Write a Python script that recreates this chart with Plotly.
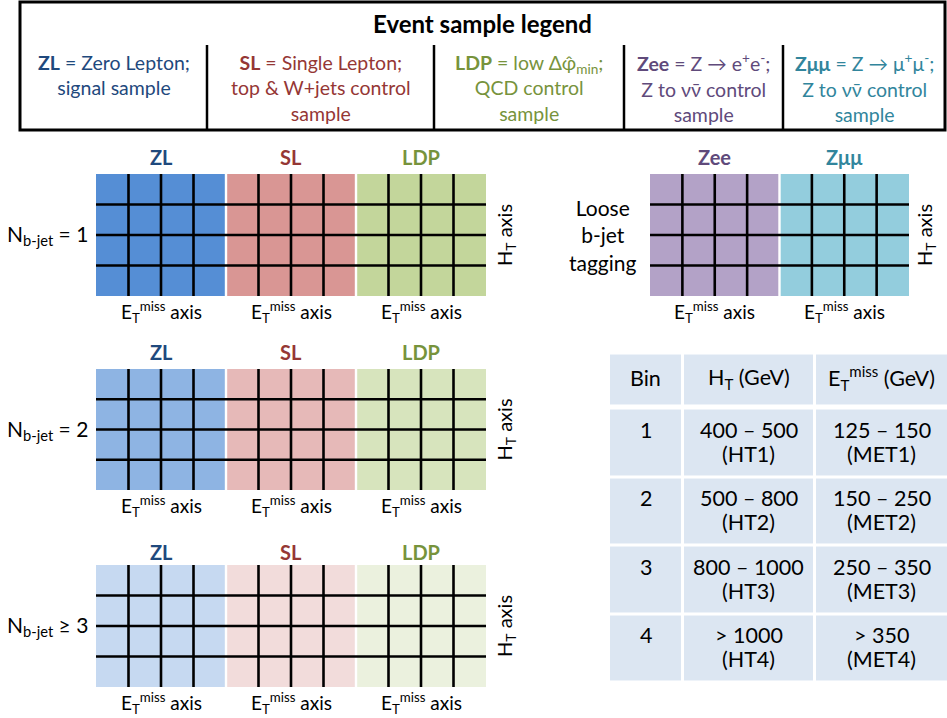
import plotly.graph_objects as go

# ---------------- data ----------------
MAIN_SAMPLES = ["ZL", "SL", "LDP"]
LOOSE_SAMPLES = ["Zee", "Zμμ"]
NB_ROWS = ["N<sub>b-jet</sub> = 1", "N<sub>b-jet</sub> = 2", "N<sub>b-jet</sub> ≥ 3"]
HT_BINS = ["HT1", "HT2", "HT3", "HT4"]
MET_BINS = ["MET1", "MET2", "MET3", "MET4"]
TABLE_HEADER = ["Bin", "H<sub>T</sub> (GeV)", "E<sub>T</sub><sup>miss</sup> (GeV)"]
BIN_NUMBERS = ["1", "2", "3", "4"]
HT_RANGES = ["400 – 500", "500 – 800", "800 – 1000", "&gt; 1000"]
MET_RANGES = ["125 – 150", "150 – 250", "250 – 350", "&gt; 350"]
LEGEND_TITLE = "Event sample legend"
LEGEND_KEYS = ["ZL", "SL", "LDP", "Zee", "Zμμ"]
LEGEND_DESC = [
    " = Zero Lepton;<br>signal sample",
    " = Single Lepton;<br>top &amp; W+jets control<br>sample",
    " = low Δφ\u0302<sub>min</sub>;<br>QCD control<br>sample",
    " = Z → e<sup>+</sup>e<sup>-</sup>;<br>Z to νν\u0304 control<br>sample",
    " = Z → μ<sup>+</sup>μ<sup>-</sup>;<br>Z to νν\u0304 control<br>sample",
]
LOOSE_LABEL = "Loose<br>b-jet<br>tagging"
MET_AXIS = "E<sub>T</sub><sup>miss</sup> axis"
HT_AXIS = "H<sub>T</sub> axis"

# ---------------- styles ----------------
FONT = "Lato"
W, H = 947, 718
FILL = {
    "ZL": ["#558ED5", "#8EB4E3", "#C6D9F1"],
    "SL": ["#D99694", "#E6B9B8", "#F2DCDB"],
    "LDP": ["#C3D69B", "#D7E4BD", "#EBF1DE"],
    "Zee": ["#B3A2C7"],
    "Zμμ": ["#93CDDD"],
}
INK = {"ZL": "#1F497D", "SL": "#953735", "LDP": "#77933C",
       "Zee": "#604A7B", "Zμμ": "#31859C"}
TABLE_FILL = "#DCE6F2"

fig = go.Figure()
ann = []


def add_grid(left, top, cw, ch, samples, shade, label_y, axis_y, ht_x):
    n = len(samples)
    ncol = len(MET_BINS) * n
    nrow = len(HT_BINS)
    z = [[j // len(MET_BINS) for j in range(ncol)] for _ in range(nrow)]
    colors = [FILL[s][shade] for s in samples]
    cs = []
    for k, c in enumerate(colors):
        cs.append([k / n, c])
        cs.append([(k + 1) / n, c])
    fig.add_trace(go.Heatmap(
        z=z, x0=left + cw / 2, dx=cw, y0=top + ch / 2, dy=ch,
        colorscale=cs, zmin=-0.5, zmax=n - 0.5, showscale=False,
        hoverinfo="skip"))
    right = left + ncol * cw
    bottom = top + nrow * ch
    # white separators between samples
    wx, wy = [], []
    for s in range(1, n):
        x = left + s * len(MET_BINS) * cw
        wx += [x, x, None]
        wy += [top, bottom, None]
    if wx:
        fig.add_trace(go.Scatter(x=wx, y=wy, mode="lines",
                                 line=dict(color="white", width=2.4),
                                 hoverinfo="skip", showlegend=False))
    # black bin lines
    bx, by = [], []
    for k in range(1, nrow):
        y = top + k * ch
        bx += [left, right, None]
        by += [y, y, None]
    for j in range(1, ncol):
        if j % len(MET_BINS) == 0:
            continue
        x = left + j * cw
        bx += [x, x, None]
        by += [top, bottom, None]
    fig.add_trace(go.Scatter(x=bx, y=by, mode="lines",
                             line=dict(color="black", width=2.6),
                             hoverinfo="skip", showlegend=False))
    for s, name in enumerate(samples):
        cx = left + (s * len(MET_BINS) + len(MET_BINS) / 2) * cw
        ann.append(dict(x=cx, y=label_y, text=f"<b>{name}</b>",
                        font=dict(size=20, color=INK[name], family=FONT)))
        ann.append(dict(x=cx, y=axis_y, text=MET_AXIS,
                        font=dict(size=19, color="black", family=FONT)))
    ann.append(dict(x=ht_x, y=(top + bottom) / 2, text=HT_AXIS, textangle=-90,
                    font=dict(size=20, color="black", family=FONT)))
    return top, bottom


# main grids (one per b-jet multiplicity)
row_tops = [174, 369, 565]
row_ch = [30.5, 30.25, 30.5]
label_ys = [157, 352, 552]
axis_ys = [312, 506, 703]
for r, lab in enumerate(NB_ROWS):
    t, b = add_grid(96, row_tops[r], 32.5, row_ch[r], MAIN_SAMPLES, r,
                    label_ys[r], axis_ys[r], 505)
    ann.append(dict(x=90, y=(t + b) / 2, text=lab, xanchor="right",
                    font=dict(size=21, color="black", family=FONT)))

# loose b-tag grid
t, b = add_grid(650, 174, 32.375, 30.5, LOOSE_SAMPLES, 0, 157, 312, 925)
ann.append(dict(x=603, y=(t + b) / 2, text=LOOSE_LABEL,
                font=dict(size=21, color="black", family=FONT)))

# ---------------- table ----------------
col_edges = [609, 682.5, 814.5, 949]
head_edges = [353.5, 406.5]
body_top, row_h = 408.5, 68.5
body_edges = [body_top + i * row_h for i in range(len(BIN_NUMBERS) + 1)]
fig.add_trace(go.Heatmap(z=[[0] * len(TABLE_HEADER)], x=col_edges, y=head_edges,
                         colorscale=[[0, TABLE_FILL], [1, TABLE_FILL]],
                         showscale=False, xgap=3, ygap=3, hoverinfo="skip"))
fig.add_trace(go.Heatmap(z=[[0] * len(TABLE_HEADER) for _ in BIN_NUMBERS],
                         x=col_edges, y=body_edges,
                         colorscale=[[0, TABLE_FILL], [1, TABLE_FILL]],
                         showscale=False, xgap=3, ygap=3, hoverinfo="skip"))
col_cx = [(col_edges[i] + col_edges[i + 1]) / 2 for i in range(len(TABLE_HEADER))]
tfont = dict(size=21.5, color="black", family=FONT)
for i, h in enumerate(TABLE_HEADER):
    ann.append(dict(x=col_cx[i], y=(head_edges[0] + head_edges[1]) / 2 - 2, text=h, font=tfont))
for r in range(len(BIN_NUMBERS)):
    cy = (body_edges[r] + body_edges[r + 1]) / 2
    l1, l2 = cy - 13, cy + 11
    ann.append(dict(x=col_cx[0], y=l1, text=BIN_NUMBERS[r], font=tfont))
    ann.append(dict(x=col_cx[1], y=l1, text=HT_RANGES[r], font=tfont))
    ann.append(dict(x=col_cx[1], y=l2, text=f"({HT_BINS[r]})", font=tfont))
    ann.append(dict(x=col_cx[2], y=l1, text=MET_RANGES[r], font=tfont))
    ann.append(dict(x=col_cx[2], y=l2, text=f"({MET_BINS[r]})", font=tfont))

# ---------------- legend box ----------------
box = dict(x0=20, y0=2, x1=945, y1=130)
dividers = [207, 434, 624, 783]
shapes = [dict(type="rect", xref="x", yref="y", **box,
               line=dict(color="black", width=3))]
for d in dividers:
    shapes.append(dict(type="line", xref="x", yref="y", x0=d, x1=d, y0=45, y1=box["y1"],
                       line=dict(color="black", width=2.5)))
ann.append(dict(x=(box["x0"] + box["x1"]) / 2, y=23, text=f"<b>{LEGEND_TITLE}</b>",
                font=dict(size=24, color="black", family=FONT)))
edges = [box["x0"]] + dividers + [box["x1"]]
for i, key in enumerate(LEGEND_KEYS):
    nlines = LEGEND_DESC[i].count("<br>") + 1
    cy = 62 + (nlines - 1) * 13
    ann.append(dict(x=(edges[i] + edges[i + 1]) / 2, y=cy,
                    text=f"<b>{key}</b>{LEGEND_DESC[i]}",
                    font=dict(size=19.5, color=INK[key], family=FONT)))

for a in ann:
    a.setdefault("xref", "x")
    a.setdefault("yref", "y")
    a.setdefault("showarrow", False)

fig.update_layout(
    width=W, height=H, margin=dict(l=0, r=0, t=0, b=0),
    paper_bgcolor="white", plot_bgcolor="white",
    xaxis=dict(range=[0, W], visible=False, fixedrange=True),
    yaxis=dict(range=[H, 0], visible=False, fixedrange=True),
    showlegend=False, annotations=ann, shapes=shapes,
)

fig.write_html("out.html", config={"displayModeBar": False},
               post_script="document.body.style.margin='0';")
